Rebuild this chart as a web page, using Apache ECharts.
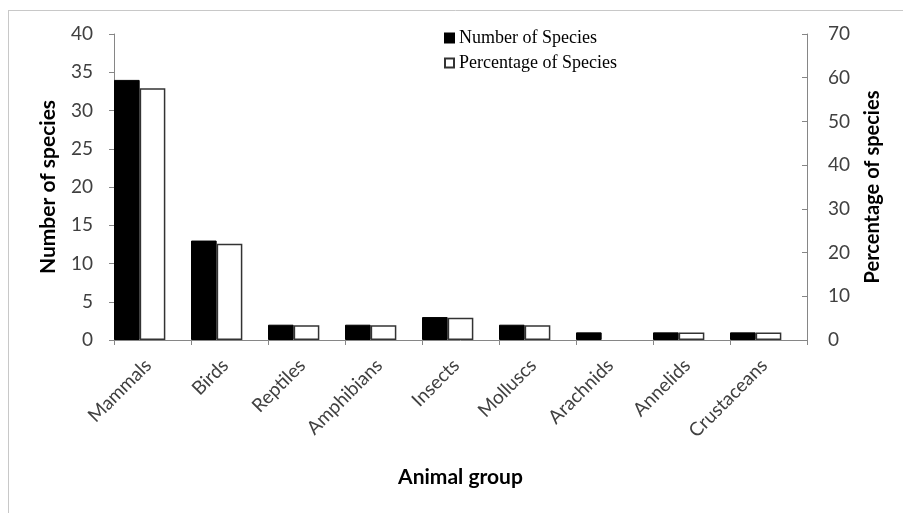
<!DOCTYPE html>
<html>
<head>
<meta charset="utf-8">
<script src="https://cdn.jsdelivr.net/npm/echarts@6/dist/echarts.min.js"></script>
<style>html,body{margin:0;padding:0;background:#fff;}#c{width:903px;height:513px;}</style>
</head>
<body>
<div id="c"></div>
<script>
const categories = ['Mammals','Birds','Reptiles','Amphibians','Insects','Molluscs','Arachnids','Annelids','Crustaceans'];
const numberOfSpecies = [34, 13, 2, 2, 3, 2, 1, 1, 1];
const percentageOfSpecies = [57.6, 22.0, 3.4, 3.4, 5.1, 3.4, '-', 1.7, 1.7];
const spacer = ['-','-','-','-','-','-','-','-','-'];

const chart = echarts.init(document.getElementById('c'));
const axisGray = '#868686';
const labelFont = 'Lato, "Open Sans", sans-serif';
chart.setOption({
  animation: false,
  backgroundColor: '#fff',
  graphic: [
    {type:'line', shape:{x1:8.5,y1:10,x2:8.5,y2:513}, style:{stroke:'#c8c8c8', lineWidth:1}},
    {type:'line', shape:{x1:8,y1:10.5,x2:903,y2:10.5}, style:{stroke:'#c8c8c8', lineWidth:1}}
  ],
  legend: {
    data: ['Number of Species','Percentage of Species'],
    orient: 'vertical',
    left: 444,
    top: 29,
    padding: 0,
    itemWidth: 9,
    itemHeight: 9,
    itemGap: 7,
    icon: 'rect',
    textStyle: {fontFamily: '"Liberation Serif", serif', fontSize: 18, color: '#000'}
  },
  grid: {left: 114, right: 96, top: 34, bottom: 173, containLabel: false},
  xAxis: {
    type: 'category',
    data: categories,
    boundaryGap: true,
    name: 'Animal group',
    nameLocation: 'middle',
    nameGap: 127,
    nameTextStyle: {fontFamily: labelFont, fontSize: 21, fontWeight: 'bold', color: '#000'},
    axisLine: {lineStyle: {color: axisGray, width: 1}},
    axisTick: {show: true, length: 5, alignWithLabel: false, lineStyle: {color: axisGray}},
    axisLabel: {rotate: 45, interval: 0, fontFamily: labelFont, fontSize: 19, color: '#404040', margin: 18, padding: [0, 6, 0, 0]}
  },
  yAxis: [
    {
      type: 'value', min: 0, max: 40, interval: 5, position: 'left',
      name: 'Number of species', nameLocation: 'middle', nameGap: 55, nameRotate: 90,
      nameTextStyle: {fontFamily: labelFont, fontSize: 21, fontWeight: 'bold', color: '#000'},
      axisLine: {show: true, lineStyle: {color: axisGray}},
      axisTick: {show: true, length: 5, inside: false, lineStyle: {color: axisGray}},
      axisLabel: {fontFamily: labelFont, fontSize: 19, color: '#404040', margin: 21},
      splitLine: {show: false}
    },
    {
      type: 'value', min: 0, max: 70, interval: 10, position: 'right',
      name: 'Percentage of species', nameLocation: 'middle', nameGap: 56, nameRotate: 90,
      nameTextStyle: {fontFamily: labelFont, fontSize: 20, fontWeight: 'bold', color: '#000'},
      axisLine: {show: true, lineStyle: {color: axisGray}},
      axisTick: {show: true, length: 5, inside: true, lineStyle: {color: axisGray}},
      axisLabel: {fontFamily: labelFont, fontSize: 19, color: '#404040', margin: 21},
      splitLine: {show: false}
    }
  ],
  series: [
    {
      name: 'Number of Species', type: 'bar', yAxisIndex: 0, data: numberOfSpecies,
      barGap: '0%', barCategoryGap: '0%',
      itemStyle: {color: '#000', borderColor: '#000', borderWidth: 1}
    },
    {
      name: 'Percentage of Species', type: 'bar', yAxisIndex: 1, data: percentageOfSpecies,
      itemStyle: {color: '#fff', borderColor: '#333', borderWidth: 1.5}
    },
    {
      name: 'spacer', type: 'bar', yAxisIndex: 0, data: spacer,
      itemStyle: {color: 'transparent'}, silent: true
    }
  ]
});
</script>
</body>
</html>
